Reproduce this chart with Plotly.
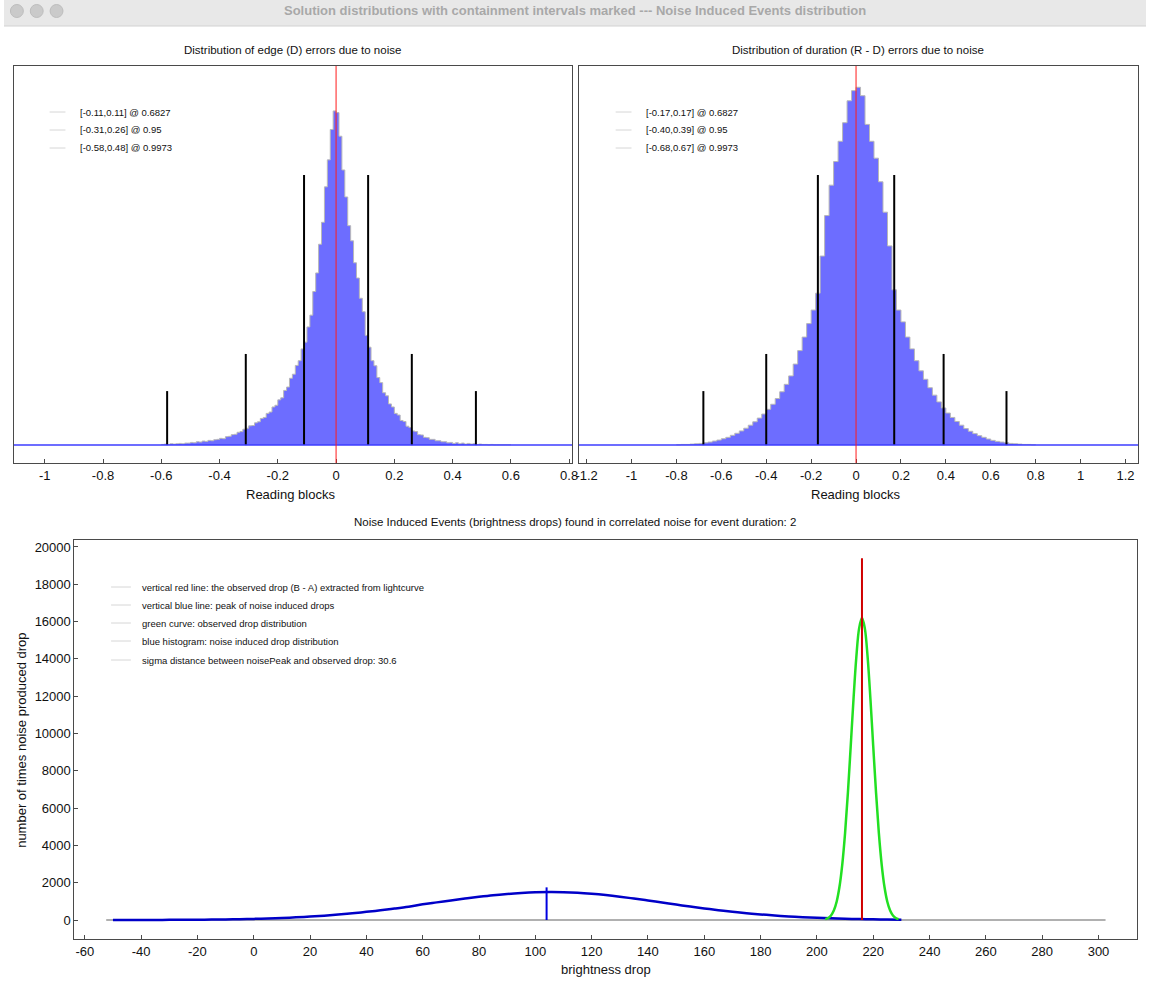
import numpy as np
import plotly.graph_objects as go

W, H = 1152, 985

# ---- edge (D) error histogram, bins of 0.01 starting at -0.60 ----
edge_bin_start = -0.60
edge_bin_width = 0.01
edge_counts = [
    2, 3, 2, 4, 3, 4, 5, 4, 6, 6,
    8, 7, 10, 9, 12, 11, 14, 13, 16, 17,
    20, 19, 25, 26, 31, 32, 38, 40, 47, 50,
    57, 58, 66, 69, 79, 82, 94, 98, 113, 118,
    134, 140, 162, 172, 198, 210, 236, 250, 285, 305,
    350, 385, 455, 510, 595, 660, 765, 845, 935, 990,
    985, 915, 815, 735, 650, 605, 540, 495, 435, 395,
    325, 290, 250, 235, 200, 185, 155, 146, 122, 113,
    94, 89, 73, 70, 56, 52, 42, 40, 31, 30,
    23, 22, 17, 17, 13, 13, 10, 10, 7, 8,
    5, 7, 4, 6, 3, 5, 3, 4, 2, 3,
    2, 2, 1, 2, 1, 1, 1, 1, 1, 1,
]
edge_intervals = [(-0.11, 0.11), (-0.31, 0.26), (-0.58, 0.48)]
edge_labels = ["[-0.11,0.11] @ 0.6827", "[-0.31,0.26] @ 0.95", "[-0.58,0.48] @ 0.9973"]

# ---- duration (R - D) error histogram, bins of 0.02 starting at -0.80 ----
dur_bin_start = -0.80
dur_bin_width = 0.02
dur_counts = [
    1, 2, 2, 3, 4, 5, 7, 9, 12, 15,
    19, 23, 29, 35, 42, 50, 59, 69, 80, 92,
    106, 121, 138, 158, 180, 205, 240, 280, 320, 360,
    400, 450, 560, 680, 770, 840, 900, 955, 1020, 1050,
    1060, 1035, 950, 900, 850, 780, 690, 590, 460, 400,
    365, 320, 285, 250, 220, 195, 170, 148, 128, 110,
    95, 82, 70, 59, 49, 41, 34, 28, 23, 18,
    14, 11, 9, 7, 5, 4, 3, 2, 2, 1,
]
dur_intervals = [(-0.17, 0.17), (-0.40, 0.39), (-0.68, 0.67)]
dur_labels = ["[-0.17,0.17] @ 0.6827", "[-0.40,0.39] @ 0.95", "[-0.68,0.67] @ 0.9973"]

interval_heights = [800, 270, 160]

# ---- noise induced events ----
noise_x = list(range(-50, 235, 5))
noise_counts = [
    1, 2, 3, 5, 7, 10, 15, 21, 29, 40,
    60, 82, 109, 143, 184, 234, 292, 360, 437, 520,
    612, 715, 840, 945, 1050, 1150, 1245, 1330, 1395, 1445,
    1482, 1500, 1492, 1462, 1408, 1336, 1248, 1150, 1045, 936,
    826, 720, 620, 527, 442, 366, 300, 242, 193, 152,
    118, 90, 68, 50, 37, 27, 19,
]
noise_peak = 104
noise_peak_height = 1750
baseline_x = [-52.4, 302.5]

observed_x = list(range(203, 230))
observed_counts = [
    47, 111, 245, 508, 980, 1766, 2970, 4655, 6815, 9310,
    11860, 14110, 15650, 16200, 15650, 14110, 11860, 9310, 6815, 4655,
    2970, 1766, 980, 508, 245, 111, 47,
]
observed_drop = 216
observed_height = 19400

legend_bottom = [
    "vertical red line: the observed drop (B - A) extracted from lightcurve",
    "vertical blue line: peak of noise induced drops",
    "green curve: observed drop distribution",
    "blue histogram: noise induced drop distribution",
    "sigma distance between noisePeak and observed drop: 30.6",
]

edge_ticks = [-1, -0.8, -0.6, -0.4, -0.2, 0, 0.2, 0.4, 0.6, 0.8]
dur_ticks = [-1.2, -1, -0.8, -0.6, -0.4, -0.2, 0, 0.2, 0.4, 0.6, 0.8, 1, 1.2]
drop_ticks = list(range(-60, 301, 20))
count_ticks = list(range(0, 20001, 2000))

FONT = "Liberation Sans, Arial, sans-serif"


def px(x):
    return x / W


def py(y):
    return 1 - y / H


def tick_text(vals):
    return [f"{v:g}" for v in vals]


fig = go.Figure()


def add_hist(start, width, counts, xa, ya):
    edges = start + width * np.arange(len(counts) + 1)
    fig.add_trace(go.Scatter(
        x=edges, y=list(counts) + [counts[-1]], mode="lines", line_shape="hv",
        line=dict(color="#b8b8b8", width=1), fill="tozeroy",
        fillcolor="rgba(20,20,255,0.62)", xaxis=xa, yaxis=ya, hoverinfo="skip"))


def add_intervals(intervals, xa, ya):
    for (lo, hi), h in zip(intervals, interval_heights):
        for v in (lo, hi):
            fig.add_trace(go.Scatter(
                x=[v, v], y=[0, h], mode="lines", line=dict(color="black", width=2),
                xaxis=xa, yaxis=ya, hoverinfo="skip"))


add_hist(edge_bin_start, edge_bin_width, edge_counts, "x", "y")
add_intervals(edge_intervals, "x", "y")
add_hist(dur_bin_start, dur_bin_width, dur_counts, "x2", "y2")
add_intervals(dur_intervals, "x2", "y2")

# bottom panel
fig.add_trace(go.Scatter(x=baseline_x, y=[0, 0], mode="lines",
                         line=dict(color="#b0b0b0", width=2), xaxis="x3", yaxis="y3"))
fig.add_trace(go.Scatter(x=noise_x, y=noise_counts, mode="lines", line_shape="spline",
                         line=dict(color="#0000c8", width=2.5), xaxis="x3", yaxis="y3"))
fig.add_trace(go.Scatter(x=[noise_peak, noise_peak], y=[0, noise_peak_height], mode="lines",
                         line=dict(color="#0000e0", width=2), xaxis="x3", yaxis="y3"))
fig.add_trace(go.Scatter(x=observed_x, y=observed_counts, mode="lines", line_shape="spline",
                         line=dict(color="#22e022", width=2.5), xaxis="x3", yaxis="y3"))
fig.add_trace(go.Scatter(x=[observed_drop, observed_drop], y=[0, observed_height], mode="lines",
                         line=dict(color="#d00000", width=2), xaxis="x3", yaxis="y3"))

shapes = []
# window title bar
shapes.append(dict(type="rect", xref="paper", yref="paper", x0=0, x1=1, y0=py(26), y1=1,
                   fillcolor="#e8e8e8", line=dict(width=0), layer="below"))
shapes.append(dict(type="line", xref="paper", yref="paper", x0=0, x1=1, y0=py(26), y1=py(26),
                   line=dict(color="#d2d2d2", width=1)))
for cx in (13, 33, 53):
    shapes.append(dict(type="circle", xref="paper", yref="paper",
                       x0=px(cx - 6.5), x1=px(cx + 6.5), y0=py(11 + 6.5), y1=py(11 - 6.5),
                       fillcolor="#cacaca", line=dict(color="#bdbdbd", width=1)))

# zero baselines and red zero lines in the top panels
for xa, ya in (("x", "y"), ("x2", "y2")):
    shapes.append(dict(type="line", xref=f"{xa} domain", yref=ya, x0=0, x1=1, y0=0, y1=0,
                       line=dict(color="#3d3dff", width=1.5)))
    shapes.append(dict(type="line", xref=xa, yref=f"{ya} domain", x0=0, x1=0, y0=0, y1=1,
                       line=dict(color="rgba(255,30,30,0.85)", width=1.2)))

annotations = []


def text(x, y, s, size, **kw):
    annotations.append(dict(xref="paper", yref="paper", x=px(x), y=py(y), text=s,
                            showarrow=False, font=dict(size=size, color=kw.pop("color", "#111"),
                                                       family=FONT), **kw))


def legend(x_line, x_text, rows, labels):
    for yy, lab in zip(rows, labels):
        shapes.append(dict(type="line", xref="paper", yref="paper", x0=px(x_line[0]),
                           x1=px(x_line[1]), y0=py(yy), y1=py(yy),
                           line=dict(color="#d6d6d6", width=1)))
        text(x_text, yy, lab, 9.5, xanchor="left", yanchor="middle")


legend((46, 62), 75, (112, 130, 148), edge_labels)
legend((617, 633), 646, (112, 130, 148), dur_labels)
legend((108, 128), 137, (587, 605, 623, 641, 660), legend_bottom)

text(576, 11, "<b>Solution distributions with containment intervals marked --- Noise Induced Events distribution</b>",
     13, color="#a8a8a8", xanchor="center", yanchor="middle")
text(291, 50, "Distribution of edge (D) errors due to noise", 11.5, xanchor="center", yanchor="middle")
text(861, 50, "Distribution of duration (R - D) errors due to noise", 11.5, xanchor="center", yanchor="middle")
text(576, 522, "Noise Induced Events (brightness drops) found in correlated noise for event duration: 2",
     11.5, xanchor="center", yanchor="middle")
text(289, 495, "Reading blocks", 13, xanchor="center", yanchor="middle")
text(859, 495, "Reading blocks", 13, xanchor="center", yanchor="middle")
text(607, 969, "brightness drop", 13, xanchor="center", yanchor="middle")
text(17, 740, "number of times noise produced drop", 13, xanchor="center", yanchor="middle",
     textangle=-90)

axis_common = dict(showline=True, mirror=True, linecolor="#4a4a4a", linewidth=1,
                   showgrid=False, zeroline=False, ticks="inside", ticklen=4,
                   tickcolor="#4a4a4a", tickfont=dict(size=13, family=FONT, color="#111"))

fig.update_layout(
    width=W, height=H, margin=dict(l=0, r=0, t=0, b=0),
    paper_bgcolor="white", plot_bgcolor="white", showlegend=False,
    shapes=shapes, annotations=annotations,
    xaxis=dict(domain=[px(10), px(573)], range=[-1.106, 0.81], anchor="y",
               tickvals=edge_ticks, ticktext=tick_text(edge_ticks), **axis_common),
    yaxis=dict(domain=[py(463), py(66)], range=[-53, 1123], anchor="x",
               showticklabels=False, **{**axis_common, "ticks": ""}),
    xaxis2=dict(domain=[px(580), px(1144)], range=[-1.234, 1.256], anchor="y2",
                tickvals=dur_ticks, ticktext=tick_text(dur_ticks), **axis_common),
    yaxis2=dict(domain=[py(463), py(66)], range=[-53, 1123], anchor="x2",
                showticklabels=False, **{**axis_common, "ticks": ""}),
    xaxis3=dict(domain=[px(71), px(1143)], range=[-63.7, 313.7], anchor="y3",
                tickvals=drop_ticks, ticktext=tick_text(drop_ticks), **axis_common),
    yaxis3=dict(domain=[py(939), py(540)], range=[-1019, 20375], anchor="x3",
                tickvals=count_ticks, ticktext=tick_text(count_ticks), **axis_common),
)

# the page's default body margin would shift the figure; drop it
fig.write_html("out.html", config={"displayModeBar": False},
               post_script="document.body.style.margin='0';document.body.style.overflow='hidden';")
